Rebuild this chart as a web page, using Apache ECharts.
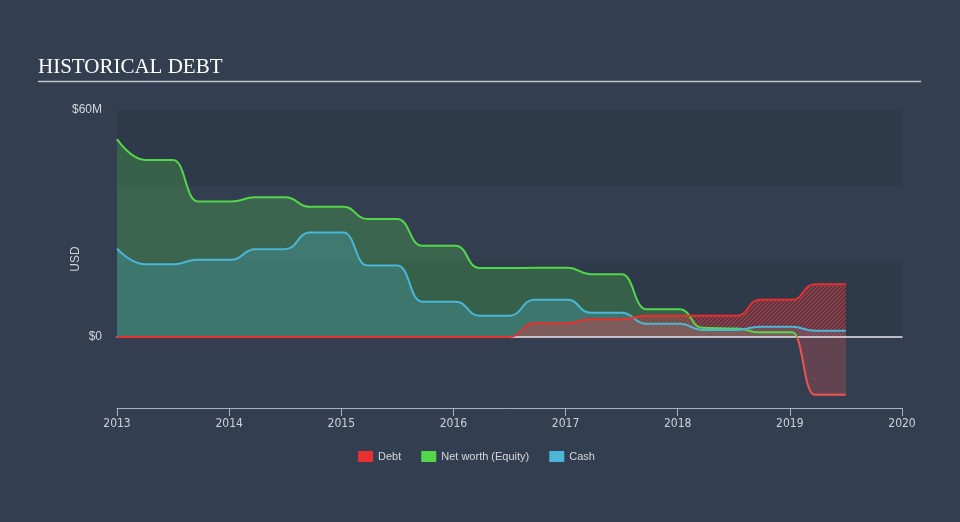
<!DOCTYPE html>
<html><head><meta charset="utf-8">
<script src="https://cdn.jsdelivr.net/npm/echarts@6/dist/echarts.min.js"></script>
<style>html,body{margin:0;padding:0;background:#333f50}#c{width:960px;height:522px}</style>
</head><body><div id="c"></div>
<script>
// Dates as decimal years (semi-annual reports with plateau edges)
const dates = [2013.0, 2013.25, 2013.5, 2013.72, 2014.02, 2014.23, 2014.5, 2014.72, 2015.02, 2015.23, 2015.5, 2015.72, 2016.02, 2016.23, 2016.5, 2016.72, 2017.02, 2017.22, 2017.5, 2017.72, 2018.02, 2018.22, 2018.53, 2018.73, 2019.02, 2019.22, 2019.5];
// Values in $M
const debt     = [0, 0, 0, 0, 0, 0, 0, 0, 0, 0, 0, 0, 0, 0, 0, 3.6, 3.6, 4.7, 4.7, 5.6, 5.6, 5.6, 5.6, 9.8, 9.8, 13.9, 13.9];
const netWorth = [52.3, 46.8, 46.8, 35.8, 35.8, 36.9, 36.9, 34.4, 34.4, 31.2, 31.2, 24.1, 24.1, 18.2, 18.2, 18.3, 18.3, 16.6, 16.6, 7.3, 7.3, 2.4, 2.2, 1.2, 1.2, -15.3, -15.3];
const cash     = [23.3, 19.2, 19.2, 20.4, 20.4, 23.2, 23.2, 27.6, 27.6, 18.9, 18.9, 9.3, 9.3, 5.6, 5.6, 9.8, 9.8, 6.4, 6.4, 3.5, 3.5, 1.85, 1.85, 2.7, 2.7, 1.6, 1.6];
const yTickLabels = { 0: '$0', 60: '$60M' };
const legendNames = ['Debt', 'Net worth (Equity)', 'Cash'];

const pairs = vals => dates.map((d, i) => [d, vals[i]]);

// hatch pattern
const pat = document.createElement('canvas');
pat.width = 4; pat.height = 4;
const g = pat.getContext('2d');
g.fillStyle = 'rgba(200,60,70,0.14)';
g.fillRect(0, 0, 4, 4);
g.strokeStyle = 'rgba(215,62,66,0.72)';
g.lineWidth = 1.3;
g.beginPath();
g.moveTo(0, 4); g.lineTo(4, 0);
g.moveTo(-1, 1); g.lineTo(1, -1);
g.moveTo(3, 5); g.lineTo(5, 3);
g.stroke();

const RED = '#e83030', GREEN = '#52d64a', BLUE = '#4ab6d8', NEG = '#f05252';
const lineBase = { type: 'line', smooth: 0.5, smoothMonotone: 'x', symbol: 'none', showSymbol: false };

const chart = echarts.init(document.getElementById('c'));
chart.setOption({
  backgroundColor: '#333f50',
  animation: false,
  title: {
    text: 'HISTORICAL DEBT', left: 38, top: 57, padding: 0,
    textStyle: { color: '#ffffff', fontSize: 21, fontWeight: 'normal', fontFamily: '"Liberation Serif", "DejaVu Serif", serif' }
  },
  graphic: [{ type: 'line', shape: { x1: 38, y1: 81.5, x2: 921, y2: 81.5 }, style: { stroke: '#bfc3ca', lineWidth: 1.5 }, silent: true }],
  legend: {
    data: legendNames, left: 358, top: 451, padding: 0, icon: 'rect', itemWidth: 15, itemHeight: 11, itemGap: 20,
    textStyle: { color: '#d3d7dd', fontSize: 11, fontFamily: '"Liberation Sans", Arial, sans-serif' }
  },
  grid: { left: 117, right: 58, top: 110, bottom: 114 },
  xAxis: [{
    type: 'value', min: 2013, max: 2020, interval: 1,
    axisLine: { onZero: false, lineStyle: { color: '#a9b2be', width: 1 } },
    axisTick: { show: true, length: 8, lineStyle: { color: '#a9b2be' } },
    axisLabel: { color: '#cdd2d9', fontSize: 12, margin: 10, fontFamily: '"Liberation Sans Narrow", "DejaVu Sans Condensed", "Liberation Sans", sans-serif', formatter: v => String(Math.round(v)) },
    splitLine: { show: false }
  }, {
    type: 'value', min: 2013, max: 2020, z: 3,
    axisLine: { onZero: true, lineStyle: { color: '#e6e8ec', width: 1.5 } },
    axisTick: { show: false }, axisLabel: { show: false }, splitLine: { show: false }
  }],
  yAxis: {
    type: 'value', min: -18.8, max: 60, splitNumber: 4,
    name: 'USD', nameLocation: 'middle', nameGap: 35, nameRotate: 90, nameMoveOverlap: false,
    nameTextStyle: { color: '#cdd2d9', fontSize: 12, fontFamily: '"Liberation Sans", Arial, sans-serif' },
    axisLine: { show: false }, axisTick: { show: false },
    axisLabel: { color: '#d3d7dd', fontSize: 12, margin: 15, fontFamily: '"Liberation Sans", Arial, sans-serif',
      formatter: v => { const k = Math.round(v * 10) / 10; return yTickLabels[k] !== undefined ? yTickLabels[k] : ''; } },
    splitLine: { show: false },
    splitArea: { show: true, areaStyle: { color: ['rgba(0,0,0,0)', 'rgba(0,0,0,0.085)'] } }
  },
  visualMap: [{
    show: false, type: 'piecewise', seriesIndex: [0, 3], dimension: 1,
    pieces: [{ gte: -1000, lt: 0, color: NEG }, { gte: 0, lte: 1000, color: GREEN }]
  }],
  series: [
    Object.assign({}, lineBase, { name: 'nw-area', z: 2, data: pairs(netWorth), lineStyle: { width: 0 }, areaStyle: { opacity: 0.25 }, silent: true }),
    Object.assign({}, lineBase, { name: 'cash-area', z: 2, data: pairs(cash), lineStyle: { width: 0 }, areaStyle: { color: BLUE, opacity: 0.25 }, silent: true }),
    Object.assign({}, lineBase, { name: 'debt-area', z: 2, data: pairs(debt), lineStyle: { width: 0 }, areaStyle: { color: { image: pat, repeat: 'repeat' }, opacity: 1 }, silent: true }),
    Object.assign({}, lineBase, { name: legendNames[1], z: 4, data: pairs(netWorth), color: GREEN, itemStyle: { color: GREEN }, lineStyle: { width: 2 } }),
    Object.assign({}, lineBase, { name: legendNames[2], z: 4, data: pairs(cash), color: BLUE, itemStyle: { color: BLUE }, lineStyle: { width: 2, color: BLUE } }),
    Object.assign({}, lineBase, { name: legendNames[0], z: 4, data: pairs(debt), color: RED, itemStyle: { color: RED }, lineStyle: { width: 2, color: RED } })
  ]
});
</script></body></html>
